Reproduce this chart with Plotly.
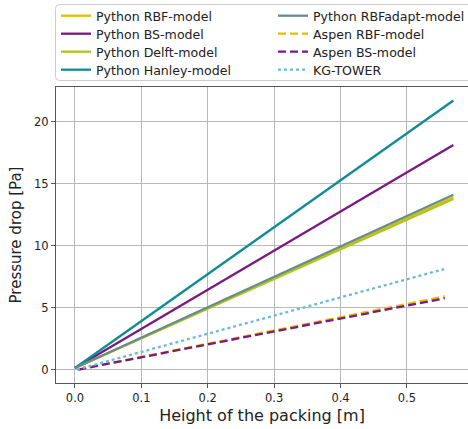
import plotly.graph_objects as go

# Data
x_python = [0.0, 0.57]
rbf = [0.12, 13.9]
bs = [0.12, 18.1]
delft = [0.12, 13.75]
hanley = [0.12, 21.7]
rbf_adapt = [0.12, 14.1]

x_aspen = [0.005, 0.557]
aspen_rbf = [0.0, 5.9]
aspen_bs = [0.0, 5.75]

x_kg = [0.003, 0.556]
kg_tower = [0.0, 8.1]

x_ticks = [0.0, 0.1, 0.2, 0.3, 0.4, 0.5]
x_tick_labels = ["0.0", "0.1", "0.2", "0.3", "0.4", "0.5"]
y_ticks = [0, 5, 10, 15, 20]

series = [
    # name, x, y, color, dash, legend column, legend row
    ("Python RBF-model", x_python, rbf, "#e0c000", "solid", 0, 0),
    ("Python BS-model", x_python, bs, "#7a1a80", "solid", 0, 1),
    ("Python Delft-model", x_python, delft, "#a8c81a", "solid", 0, 2),
    ("Python Hanley-model", x_python, hanley, "#0e8c92", "solid", 0, 3),
    ("Python RBFadapt-model", x_python, rbf_adapt, "#6a8a8e", "solid", 1, 0),
    ("Aspen RBF-model", x_aspen, aspen_rbf, "#e0c000", "8px,4px", 1, 1),
    ("Aspen BS-model", x_aspen, aspen_bs, "#7a1a80", "8px,4px", 1, 2),
    ("KG-TOWER", x_kg, kg_tower, "#6cb8d8", "dot", 1, 3),
]

font_family = "DejaVu Sans"
plot_w, plot_h = 412.0, 296.0


def px_x(px):
    return (px - 56) / plot_w


def px_y(py):
    return 1 + (87 - py) / plot_h


legend_common = dict(
    font=dict(size=12.6, family=font_family, color="#222"),
    bgcolor="rgba(0,0,0,0)", borderwidth=0,
    yanchor="top", xanchor="left", tracegroupgap=0,
)
col_px = [56, 273]
row_top_px = [1, 19, 37, 55]

fig = go.Figure()
legends = {}
for i, (name, xs, ys, color, dash, col, row) in enumerate(series):
    key = "legend" if i == 0 else f"legend{i + 1}"
    fig.add_trace(go.Scatter(
        x=xs, y=ys, mode="lines", name=name,
        line=dict(color=color, width=2.3, dash=dash),
        legend=key,
    ))
    legends[key] = dict(x=px_x(col_px[col]), y=px_y(row_top_px[row]), **legend_common)

# rounded legend frame
x0, x1 = px_x(55.5), px_x(480)
y0, y1 = px_y(80.5), px_y(4.5)
rx, ry = 4 / plot_w, 4 / plot_h
frame_path = (
    f"M{x0 + rx},{y1} L{x1 - rx},{y1} Q{x1},{y1} {x1},{y1 - ry} "
    f"L{x1},{y0 + ry} Q{x1},{y0} {x1 - rx},{y0} "
    f"L{x0 + rx},{y0} Q{x0},{y0} {x0},{y0 + ry} "
    f"L{x0},{y1 - ry} Q{x0},{y1} {x0 + rx},{y1} Z"
)

fig.update_layout(
    width=468, height=429,
    margin=dict(l=56, r=0, t=87, b=46, autoexpand=False),
    paper_bgcolor="white", plot_bgcolor="white",
    font=dict(family=font_family, color="#222"),
    showlegend=True,
    shapes=[dict(type="path", path=frame_path, xref="paper", yref="paper",
                 line=dict(color="#cccccc", width=1), fillcolor="white", layer="below")],
    xaxis=dict(
        range=[-0.0286, 0.592],
        tickvals=x_ticks, ticktext=x_tick_labels,
        showgrid=True, gridcolor="#b8b8b8", gridwidth=1,
        zeroline=False,
        showline=True, linecolor="#555", linewidth=1.3, mirror=True,
        ticks="outside", ticklen=4, tickcolor="#555",
        tickfont=dict(size=11.5, family=font_family, color="#222"),
        title=dict(text="Height of the packing [m]", font=dict(size=16, family=font_family, color="#222"), standoff=5),
    ),
    yaxis=dict(
        range=[-1.085, 22.785],
        tickvals=y_ticks,
        showgrid=True, gridcolor="#b8b8b8", gridwidth=1,
        zeroline=False,
        showline=True, linecolor="#555", linewidth=1.3, mirror=False,
        ticks="outside", ticklen=4, tickcolor="#555",
        tickfont=dict(size=11.5, family=font_family, color="#222"),
        title=dict(text="Pressure drop [Pa]", font=dict(size=15, family=font_family, color="#222"), standoff=8),
    ),
    **legends,
)

fig.write_html("out.html")
